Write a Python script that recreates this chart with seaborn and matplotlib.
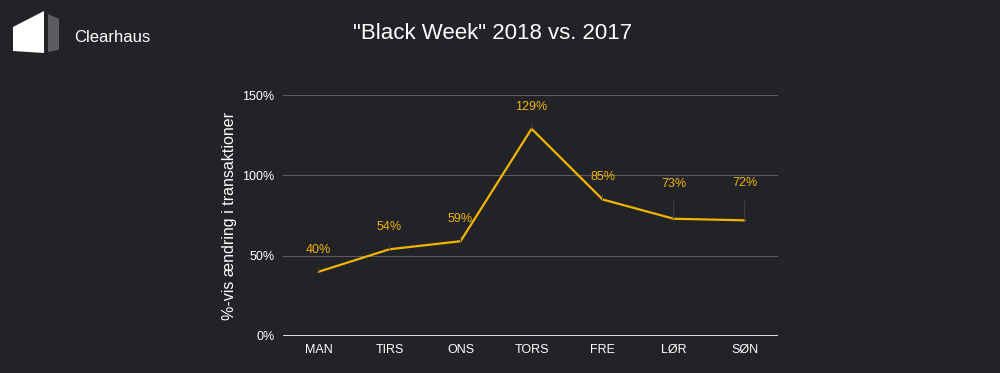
import matplotlib
matplotlib.use("Agg")
import matplotlib.pyplot as plt
from matplotlib.patches import Polygon
import seaborn as sns
import pandas as pd

# Data
days = ["MAN", "TIRS", "ONS", "TORS", "FRE", "LØR", "SØN"]
change_pct = [40, 54, 59, 129, 85, 73, 72]
label_offsets = [22, 22, 22, 22, 22, 35, 37]  # px above point

bg = "#222327"
line_col = "#f0b400"

sns.set_theme(style="dark")
plt.rcParams["font.family"] = ["Liberation Sans", "DejaVu Sans"]

df = pd.DataFrame({"day": days, "pct": change_pct})

fig = plt.figure(figsize=(10, 3.73), dpi=100, facecolor=bg)
ax = fig.add_axes([0.283, 0.0992, 0.495, 0.646])
ax.set_facecolor(bg)

sns.lineplot(data=df, x="day", y="pct", ax=ax, color=line_col, linewidth=1.6, sort=False)

ax.set_ylim(0, 150)
ax.set_xlim(-0.5, 6.47)
ax.set_yticks([0, 50, 100, 150])
ax.set_yticklabels(["0%", "50%", "100%", "150%"])
ax.yaxis.grid(True, color="#5a5b60", linewidth=0.8)
ax.xaxis.grid(False)
ax.axhline(0, color="white", linewidth=1.2, zorder=3)
for s in ax.spines.values():
    s.set_visible(False)
ax.tick_params(axis="both", colors="white", labelsize=9, length=0, pad=6)
ax.set_xlabel("")
ax.set_ylabel("%-vis ændring i transaktioner", color="white", fontsize=11.5, labelpad=4)

for i, (v, off) in enumerate(zip(change_pct, label_offsets)):
    ax.annotate(f"{v}%", xy=(i, v), xytext=(0, off), textcoords="offset pixels",
                ha="center", va="center", color=line_col, fontsize=9,
                arrowprops=dict(arrowstyle="-", color="#3e3f44", lw=0.8,
                                shrinkA=6, shrinkB=0))

# title
fig.text(0.493, 0.91, "\"Black Week\" 2018 vs. 2017", color="white",
         fontsize=16, ha="center", va="center")

# logo
W, H = 1000, 373
def pts(p):
    return [(x / W, 1 - y / H) for x, y in p]
fig.patches.append(Polygon(pts([(13, 27), (44, 11), (44, 53), (13, 51)]),
                           closed=True, facecolor="white", edgecolor="none",
                           transform=fig.transFigure))
fig.patches.append(Polygon(pts([(48, 14), (59, 19), (59, 50), (48, 52)]),
                           closed=True, facecolor="#5b5c61", edgecolor="none",
                           transform=fig.transFigure))
fig.text(0.074, 1 - 37 / H, "Clearhaus", color="white", fontsize=12,
         ha="left", va="center")

fig.savefig("out.png", dpi=100, facecolor=bg)
